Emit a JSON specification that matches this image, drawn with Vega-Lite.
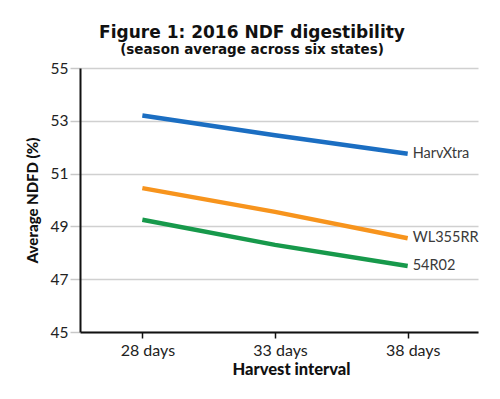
{
  "$schema": "https://vega.github.io/schema/vega-lite/v6.json",
  "autosize": {"type": "none"},
  "width": 398,
  "height": 264,
  "padding": {"left": 80, "top": 68, "right": 22, "bottom": 67},
  "background": "white",
  "title": {
    "text": "Figure 1: 2016 NDF digestibility",
    "subtitle": "(season average across six states)",
    "anchor": "middle",
    "frame": "group",
    "dx": -27,
    "offset": 4,
    "font": "DejaVu Sans",
    "fontSize": 17,
    "fontWeight": "bold",
    "color": "#111111",
    "subtitleFont": "DejaVu Sans",
    "subtitleFontSize": 13.5,
    "subtitleFontWeight": "bold",
    "subtitleColor": "#111111",
    "subtitlePadding": 1
  },
  "config": {
    "view": {"stroke": null},
    "axis": {"labelFont": "Lato", "titleFont": "Lato"}
  },
  "data": {
    "values": [
      {"interval": "28 days", "hybrid": "HarvXtra", "ndfd": 53.2},
      {"interval": "33 days", "hybrid": "HarvXtra", "ndfd": 52.45},
      {"interval": "38 days", "hybrid": "HarvXtra", "ndfd": 51.75},
      {"interval": "28 days", "hybrid": "WL355RR", "ndfd": 50.45},
      {"interval": "33 days", "hybrid": "WL355RR", "ndfd": 49.55},
      {"interval": "38 days", "hybrid": "WL355RR", "ndfd": 48.55},
      {"interval": "28 days", "hybrid": "54R02", "ndfd": 49.25},
      {"interval": "33 days", "hybrid": "54R02", "ndfd": 48.3},
      {"interval": "38 days", "hybrid": "54R02", "ndfd": 47.5}
    ]
  },
  "encoding": {
    "x": {
      "field": "interval",
      "type": "ordinal",
      "sort": ["28 days", "33 days", "38 days"],
      "scale": {"type": "point", "padding": 0.5, "align": 0.47},
      "axis": {
        "title": "Harvest interval",
        "titleFontSize": 16.5,
        "titleFontWeight": 900,
        "titleColor": "#111111",
        "titlePadding": 3,
        "titleX": 211,
        "labelAngle": 0,
        "labelFontSize": 16,
        "labelColor": "#222222",
        "labelPadding": 4,
        "labelOffset": 5,
        "domainColor": "#111111",
        "domainWidth": 2,
        "tickColor": "#111111",
        "tickWidth": 1.5,
        "tickSize": 6,
        "grid": false
      }
    },
    "y": {
      "field": "ndfd",
      "type": "quantitative",
      "scale": {"domain": [45, 55], "nice": false, "zero": false},
      "axis": {
        "title": "Average NDFD (%)",
        "titleFontSize": 15,
        "titleFontWeight": 900,
        "titleColor": "#111111",
        "titlePadding": 10,
        "values": [45, 47, 49, 51, 53, 55],
        "labelFontSize": 15.5,
        "labelColor": "#222222",
        "labelPadding": 2,
        "domainColor": "#111111",
        "domainWidth": 2,
        "tickColor": "#c8c8c8",
        "tickWidth": 1.5,
        "tickSize": 10,
        "grid": true,
        "gridColor": "#d0d0d0",
        "gridWidth": 1.5
      }
    }
  },
  "layer": [
    {
      "mark": {"type": "line", "strokeWidth": 4.5, "strokeCap": "butt"},
      "encoding": {
        "color": {
          "field": "hybrid",
          "type": "nominal",
          "scale": {
            "domain": ["HarvXtra", "WL355RR", "54R02"],
            "range": ["#1b6ec2", "#f7941d", "#17994b"]
          },
          "legend": null
        }
      }
    },
    {
      "transform": [{"filter": "datum.interval === '38 days'"}],
      "mark": {
        "type": "text",
        "align": "left",
        "baseline": "middle",
        "dx": 5,
        "font": "Lato",
        "fontSize": 14.5,
        "color": "#3a3a3a"
      },
      "encoding": {"text": {"field": "hybrid"}}
    }
  ]
}
